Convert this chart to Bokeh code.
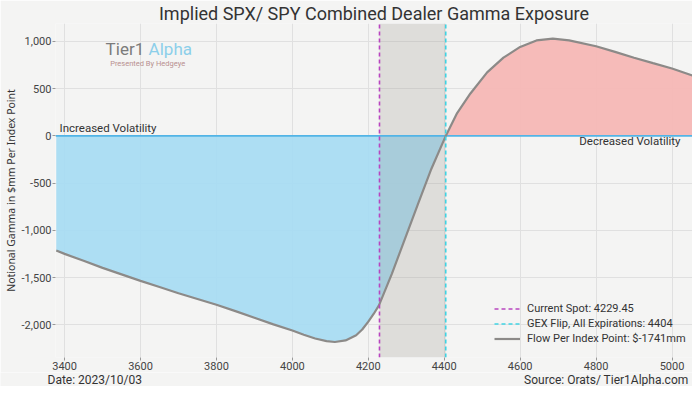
from bokeh.plotting import figure
from bokeh.layouts import column
from bokeh.models import (Range1d, FixedTicker, NumeralTickFormatter, Label,
                          Legend, LegendItem)
from bokeh.embed import file_html
from bokeh.resources import INLINE

# ---- data ----
strike = [3378, 3400, 3450, 3500, 3550, 3600, 3650, 3700, 3750, 3800, 3850,
          3900, 3950, 4000, 4030, 4060, 4090, 4112, 4140, 4168, 4184, 4200,
          4214, 4228, 4262, 4297, 4331, 4366, 4404, 4434, 4469, 4513, 4556,
          4600, 4643, 4686, 4729, 4800, 4850, 4900, 4950, 5000, 5054]
gamma = [-1214, -1249, -1322, -1397, -1466, -1535, -1600, -1666, -1726, -1787,
         -1855, -1925, -1995, -2060, -2105, -2145, -2172, -2182, -2165, -2110,
         -2050, -1967, -1885, -1794, -1460, -1085, -720, -350, 0, 242, 449,
         673, 828, 942, 1011, 1029, 1011, 949, 890, 828, 770, 714, 639]
current_spot = 4229.45
gex_flip = 4404
flow_per_point = -1741
x_ticks = [3400, 3600, 3800, 4000, 4200, 4400, 4600, 4800, 5000]
y_ticks = [-2000, -1500, -1000, -500, 0, 500, 1000]
x_lo, x_hi = 3376, 5054
y_lo, y_hi = -2346, 1190

title_text = "Implied SPX/ SPY Combined Dealer Gamma Exposure"
y_label = "Notional Gamma in $mm Per Index Point"
date_text = "Date: 2023/10/03"
source_text = "Source: Orats/ Tier1Alpha.com"

BG = "#f4f4f3"
FONT = "Roboto"
TICKFONT = "Roboto"
W = 692

p = figure(width=W, height=372, output_backend="svg", toolbar_location=None,
           x_range=Range1d(x_lo, x_hi), y_range=Range1d(y_lo, y_hi),
           min_border_left=10, min_border_right=0, min_border_top=0,
           min_border_bottom=5)
p.frame_align = False
p.background_fill_color = BG
p.border_fill_color = BG
p.outline_line_color = None

p.title.text = title_text
p.title.align = "center"
p.title.text_font = FONT
p.title.text_font_size = "18px"
p.title.text_font_style = "normal"
p.title.text_color = "#333333"
p.title.standoff = 0
p.title.offset = 0

for ax in (p.xaxis, p.yaxis):
    ax.axis_line_color = None
    ax.major_tick_line_color = "#999999"
    ax.major_tick_out = 3
    ax.major_tick_in = 0
    ax.minor_tick_line_color = None
    ax.major_label_text_font = TICKFONT
    ax.major_label_text_font_size = "11px"
    ax.major_label_text_color = "#444444"
    ax.major_label_standoff = 1
p.xaxis.ticker = FixedTicker(ticks=x_ticks)
p.yaxis.ticker = FixedTicker(ticks=y_ticks)
p.yaxis.formatter = NumeralTickFormatter(format="0,0")
p.yaxis.axis_label = y_label
p.yaxis.axis_label_text_font = "Noto Sans"
p.yaxis.axis_label_text_font_size = "10.5px"
p.yaxis.axis_label_text_font_style = "normal"
p.yaxis.axis_label_text_color = "#333333"
p.yaxis.axis_label_standoff = 1
p.grid.grid_line_color = "#e0e0e0"
p.grid.grid_line_width = 1

neg = [min(g, 0) for g in gamma]
pos = [max(g, 0) for g in gamma]
p.varea(x=strike, y1=[0] * len(strike), y2=neg, fill_color="#a6dbf3", fill_alpha=0.92)
p.varea(x=strike, y1=[0] * len(strike), y2=pos, fill_color="#f6b7b5", fill_alpha=0.95)

# shaded zone between current spot and gamma flip
p.quad(left=[current_spot], right=[gex_flip], bottom=[y_lo], top=[y_hi],
       fill_color="#9c968f", fill_alpha=0.25, line_color=None)

# zero line
p.line(x=[x_lo, x_hi], y=[0, 0], line_color="#52b4e6", line_width=1.6)

r_flow = p.line(x=strike, y=gamma, line_color="#8c8a88", line_width=2.2)
r_spot = p.line(x=[current_spot, current_spot], y=[y_lo, y_hi],
                line_color="#b845c0", line_width=1.6, line_dash="4 3")
r_flip = p.line(x=[gex_flip, gex_flip], y=[y_lo, y_hi],
                line_color="#3fd3e3", line_width=1.6, line_dash="4 3")

legend = Legend(items=[
    LegendItem(label=f"Current Spot: {current_spot}", renderers=[r_spot]),
    LegendItem(label=f"GEX Flip, All Expirations: {gex_flip}", renderers=[r_flip]),
    LegendItem(label=f"Flow Per Index Point: ${flow_per_point}mm", renderers=[r_flow]),
], location=(439, 11), orientation="vertical")
legend.background_fill_alpha = 0
legend.border_line_alpha = 0
legend.margin = 0
legend.padding = 0
legend.spacing = 0
legend.label_height = 15
legend.glyph_height = 15
legend.glyph_width = 26
legend.label_standoff = 7
legend.label_text_font = FONT
legend.label_text_font_size = "11px"
legend.label_text_color = "#333333"
p.add_layout(legend, "center")

txt = dict(text_font=FONT, text_color="#333333")
p.add_layout(Label(x=x_lo, y=0, x_offset=4, y_offset=1, text="Increased Volatility",
                   text_baseline="bottom", text_font_size="11.5px", **txt))
p.add_layout(Label(x=x_hi, y=0, x_offset=-12, y_offset=2, text="Decreased Volatility",
                   text_align="right", text_baseline="top", text_font_size="11.5px", **txt))

# logo text
p.add_layout(Label(x=3508, y=918, text="Tier1", text_baseline="middle",
                   text_font=FONT, text_font_size="17px", text_color="#7b7b7b"))
p.add_layout(Label(x=3508, y=918, x_offset=43, text="Alpha", text_baseline="middle",
                   text_font=FONT, text_font_size="17px", text_color="#8ccfea"))
p.add_layout(Label(x=3520, y=770, text="Presented By Hedgeye", text_baseline="middle",
                   text_font=FONT, text_font_size="7.5px", text_color="#b89090"))

# footer strip with date and source
f = figure(width=W, height=14, output_backend="svg", toolbar_location=None,
           x_range=Range1d(0, W), y_range=Range1d(0, 14),
           x_axis_location=None, y_axis_location=None,
           min_border_left=0, min_border_right=0, min_border_top=0,
           min_border_bottom=0)
f.frame_align = False
f.grid.visible = False
f.background_fill_color = BG
f.border_fill_color = BG
f.outline_line_color = None
f.add_layout(Label(x=47, y=7, x_units="screen", y_units="screen", text=date_text,
                   text_baseline="middle", text_font_size="12px", **txt))
f.add_layout(Label(x=688, y=7, x_units="screen", y_units="screen", text=source_text,
                   text_align="right", text_baseline="middle", text_font_size="12px", **txt))

layout = column(p, f, spacing=0)
open("out.html", "w").write(file_html(layout, INLINE))
